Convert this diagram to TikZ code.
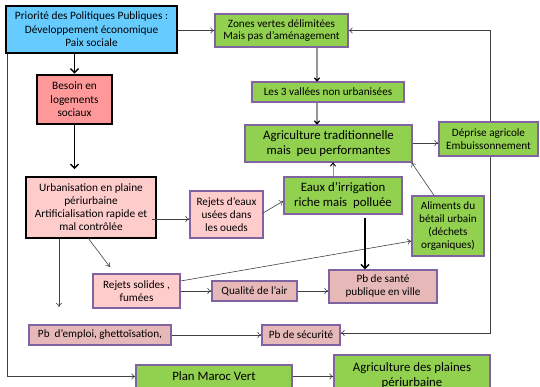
\documentclass[tikz,border=0pt]{standalone}
\usepackage{fontspec}
\setmainfont{Carlito}
\usetikzlibrary{arrows.meta,calc}
\definecolor{skyb}{RGB}{102,204,255}
\definecolor{pinkA}{RGB}{255,153,153}
\definecolor{pinkB}{RGB}{255,204,204}
\definecolor{pinkC}{RGB}{230,185,184}
\definecolor{greenA}{RGB}{146,208,80}
\definecolor{purp}{RGB}{128,100,162}
\definecolor{lgray}{RGB}{150,150,150}
\tikzset{
  box/.style={draw=purp,line width=1.2pt,inner sep=1pt,align=center,font=\fontsize{11.2}{13}\selectfont},
  bigbox/.style={box,font=\fontsize{12.8}{15.5}\selectfont},
  thickbox/.style={draw=black,line width=2.6pt,inner sep=1pt,align=center,font=\fontsize{11.3}{13.5}\selectfont},
  thin/.style={draw=black!75,line width=0.6pt,-{To[length=4pt,width=6pt,open]}},
  grayarr/.style={draw=lgray,line width=1.3pt,-{To[length=4pt,width=6pt,open,color=black]}},
  thickarr/.style={draw=black,line width=1.5pt,-{Straight Barb[length=4pt,width=8pt]}},
}
\begin{document}
\begin{tikzpicture}[x=1pt,y=-1pt]
\useasboundingbox (0,0) rectangle (540,386);
\clip (0,0) rectangle (540,386);
% nodes
\node[thickbox,fill=skyb,minimum width=171pt,minimum height=47pt] (top) at (91.5,29.5) {Priorité des Politiques Publiques :\\Développement économique\\Paix sociale};
\node[thickbox,fill=pinkA,minimum width=75pt,minimum height=49pt] (besoin) at (74.5,99.5) {Besoin en\\logements\\sociaux};
\node[thickbox,line width=1.6pt,fill=pinkB,minimum width=130pt,minimum height=61pt,font=\fontsize{11.3}{13}\selectfont] (urb) at (91,207.5) {Urbanisation en plaine\\périurbaine\\Artificialisation rapide et\\mal contrôlée};
\node[box,fill=greenA,minimum width=133pt,minimum height=33pt,font=\fontsize{11.2}{12.5}\selectfont] (zones) at (281.5,30.5) {Zones vertes délimitées\\Mais pas d’aménagement};
\node[box,fill=greenA,minimum width=152pt,minimum height=20pt] (vallees) at (328,92) {Les 3 vallées non urbanisées};
\node[bigbox,fill=greenA,minimum width=167pt,minimum height=37pt,font=\fontsize{12.8}{15}\selectfont] (agri) at (328.5,143.5) {Agriculture traditionnelle\\mais\ \ peu performantes};
\node[box,fill=greenA,minimum width=99pt,minimum height=34pt] (deprise) at (488.5,139) {Déprise agricole\\Embuissonnement};
\node[bigbox,fill=greenA,minimum width=118pt,minimum height=37pt] (eaux) at (343,195.5) {Eaux d’irrigation\\riche mais\ \ polluée};
\node[box,fill=pinkB,minimum width=73pt,minimum height=47pt] (rejeaux) at (226.5,214.5) {Rejets d’eaux\\usées dans\\les oueds};
\node[box,fill=greenA,minimum width=72pt,minimum height=60pt] (aliments) at (448,226) {Aliments du\\bétail urbain\\(déchets\\organiques)};
\node[box,fill=pinkB,minimum width=87pt,minimum height=34pt] (solides) at (136.5,291) {Rejets solides ,\\fumées};
\node[box,fill=pinkC,minimum width=85pt,minimum height=20pt] (qualite) at (254.5,291) {Qualité de l’air};
\node[box,fill=pinkC,minimum width=108pt,minimum height=33pt] (sante) at (383,286.5) {Pb de santé\\publique en ville};
\node[box,fill=pinkC,minimum width=142pt,minimum height=20pt] (emploi) at (100,335) {Pb\ \ d’emploi, ghettoïsation,};
\node[box,fill=pinkC,minimum width=78pt,minimum height=20pt] (securite) at (301,335) {Pb de sécurité};
\node[bigbox,fill=greenA,minimum width=156pt,minimum height=23pt] (plan) at (214,376.5) {Plan Maroc Vert};
\node[bigbox,fill=greenA,minimum width=156pt,minimum height=41pt] (plaines) at (412,375.5) {Agriculture des plaines\\périurbaine};
\coordinate (urbdown) at (59,307);
% connectors
\draw[thickarr] (top.south -| besoin) -- (besoin.north);
\draw[thickarr,shorten >=7pt] (besoin.south) -- (urb.north -| besoin);
\draw[thin] (top.east |- zones) -- (zones.west);
\draw[grayarr] (zones.south -| 317,0) -- (vallees.north -| 317,0);
\draw[grayarr] (vallees.south -| 317,0) -- (agri.north -| 317,0);
\draw[thin] (agri.east |- 0,143) -- (deprise.west |- 0,143);
\draw[thin] ([xshift=1.5pt]deprise.north) |- (zones.east);
\draw[thin] ([xshift=1.5pt]deprise.south) |- ([yshift=2pt]securite.east);
\draw[grayarr,line width=1pt] (eaux.north -| 333,0) -- (agri.south -| 333,0);
\draw[thin] ([xshift=-5pt,yshift=-11.5pt]urb.east) -- ([yshift=-4.5pt]rejeaux.west);
\draw[thin] (263,213) -- ([yshift=-5.5pt]eaux.west);
\draw[thin] (aliments.north -| 434,0) -- ([xshift=-1pt]agri.south east);
\draw[thin] ([yshift=10pt]solides.east) -- ([yshift=-15pt]aliments.west);
\draw[thickarr,shorten <=3pt] (eaux.south -| 365,0) -- (sante.north -| 365,0);
\draw[thin] (qualite.east) -- (sante.west |- qualite.east);
\draw[thin] (solides.east) -- (qualite.west);
\draw[thin] (88,238) -- (110,267);
\draw[thin] (urb.south -| urbdown) -- (urbdown);
\draw[thin] (emploi.east) -- (securite.west);
\draw[thin] (top.south -| 7,0) |- (plan.west);
\draw[thin] (plan.east) -- (plaines.west |- plan.east);
\end{tikzpicture}
\end{document}
